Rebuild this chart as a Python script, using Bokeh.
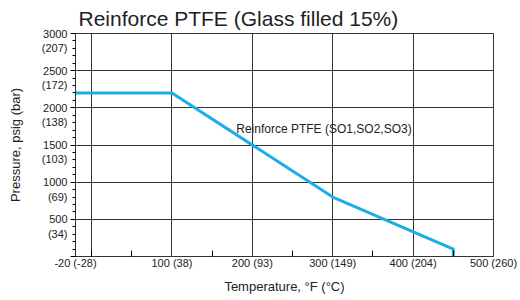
from bokeh.plotting import figure
from bokeh.models import FixedTicker, Grid, Label
from bokeh.embed import file_html
from bokeh.resources import INLINE

# Data
temps_f = [-20, 100, 300, 450, 450]
pressure_psig = [2200, 2200, 800, 100, 0]

x_ticks = [-20, 100, 200, 300, 400, 500]
x_labels = ["-20 (-28)", "100 (38)", "200 (93)", "300 (149)", "400 (204)", "500 (260)"]
x_minor = [0, 50, 150, 250, 350, 450]
x_grid = [0, 100, 200, 300, 400, 500]

y_ticks = [0, 500, 1000, 1500, 2000, 2500, 3000]
y_labels = ["", " \n500\n(34)", " \n1000\n(69)", " \n1500\n(103)", " \n2000\n(138)", " \n2500\n(172)", " \n3000\n(207)"]
y_minor = [v for v in range(0, 3001, 100)]

series_label = "Reinforce PTFE (SO1,SO2,SO3)"
title_text = "Reinforce PTFE (Glass filled 15%)"

FONT = "Liberation Sans"

p = figure(frame_width=418, frame_height=223, output_backend="svg", toolbar_location=None,
           x_range=(-20, 500), y_range=(0, 3000),
           min_border_left=75, min_border_right=26, min_border_top=31, min_border_bottom=45)

p.title.text = title_text
p.title.text_font = FONT
p.title.text_font_size = "21px"
p.title.text_font_style = "normal"
p.title.text_color = "#222222"
p.title.offset = 3
p.title.standoff = 8

p.line(temps_f, pressure_psig, line_color="#1BAEE6", line_width=3)

p.add_layout(Label(x=180, y=1710, text=series_label, text_font=FONT, text_font_size="12px",
                   text_baseline="middle", text_color="#222222"))

# grids
p.xgrid.visible = False
p.ygrid.visible = False
p.add_layout(Grid(dimension=0, ticker=FixedTicker(ticks=x_grid), grid_line_color="#333333", grid_line_width=1))
p.add_layout(Grid(dimension=1, ticker=FixedTicker(ticks=y_ticks[1:]), grid_line_color="#333333", grid_line_width=1))
p.outline_line_color = "#333333"
p.outline_line_width = 1

# x axis
xa = p.xaxis[0]
xa.ticker = FixedTicker(ticks=x_ticks, minor_ticks=x_minor)
xa.major_label_overrides = {t: l for t, l in zip(x_ticks, x_labels)}
xa.major_tick_in = 0
xa.major_tick_out = 0
xa.minor_tick_in = 6
xa.minor_tick_out = 0
xa.axis_label = "Temperature, °F (°C)"
xa.axis_label_text_font = FONT
xa.axis_label_text_font_size = "13px"
xa.axis_label_text_font_style = "normal"
xa.axis_label_text_color = "#222222"
xa.axis_label_standoff = 7
xa.major_label_text_font = FONT
xa.major_label_text_font_size = "11px"
xa.major_label_text_color = "#222222"
xa.major_label_standoff = 0
xa.axis_line_color = "#333333"

ya = p.yaxis[0]
ya.ticker = FixedTicker(ticks=y_ticks, minor_ticks=y_minor)
ya.major_label_overrides = {t: l for t, l in zip(y_ticks, y_labels)}
ya.major_tick_in = 0
ya.major_tick_out = 5
ya.minor_tick_in = 0
ya.minor_tick_out = 3
ya.axis_label = "Pressure, psig (bar)"
ya.axis_label_text_font = FONT
ya.axis_label_text_font_size = "13px"
ya.axis_label_text_font_style = "normal"
ya.axis_label_text_color = "#222222"
ya.axis_label_standoff = 16
ya.major_label_text_font = FONT
ya.major_label_text_font_size = "11px"
ya.major_label_text_color = "#222222"
ya.major_label_standoff = 3
ya.major_label_orientation = "horizontal"
ya.axis_line_color = "#333333"

open("out.html", "w").write(file_html(p, INLINE))
